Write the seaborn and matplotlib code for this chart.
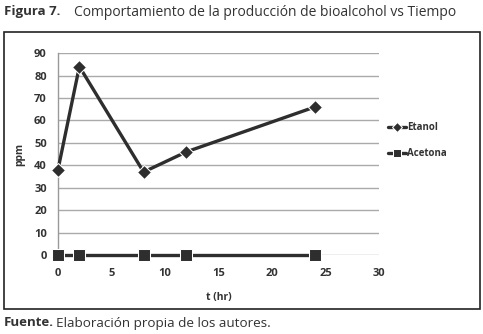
import matplotlib
matplotlib.use("Agg")
import matplotlib.pyplot as plt
import seaborn as sns
import pandas as pd
from matplotlib.patches import Rectangle

t_hr = [0, 2, 8, 12, 24]
etanol = [38, 84, 37, 46, 66]
acetona = [0, 0, 0, 0, 0]
x_ticks = [0, 5, 10, 15, 20, 25, 30]
y_ticks = [0, 10, 20, 30, 40, 50, 60, 70, 80, 90]

sns.set_theme(style="white")
plt.rcParams['font.family'] = ['Open Sans', 'DejaVu Sans']

df = pd.DataFrame({
    "t": t_hr * 2,
    "ppm": etanol + acetona,
    "serie": ["Etanol"] * len(t_hr) + ["Acetona"] * len(t_hr),
})

fig = plt.figure(figsize=(4.83, 3.34), dpi=100)
ax = fig.add_axes([0.120, 0.2365, 0.665, 0.6045])

col = "#2e2e2e"
sns.lineplot(data=df, x="t", y="ppm", hue="serie", style="serie",
             markers={"Etanol": "D", "Acetona": "s"}, dashes=False,
             palette={"Etanol": col, "Acetona": col}, markersize=7,
             linewidth=2.4, ax=ax, legend=True, zorder=3)

ax.set_xlim(0, 30)
ax.set_ylim(0, 90)
ax.set_xticks(x_ticks)
ax.set_yticks(y_ticks)
ax.yaxis.grid(True, color="#aaaaaa", linewidth=1)
ax.xaxis.grid(False)
for s in ["top", "right", "bottom"]:
    ax.spines[s].set_visible(False)
ax.spines["left"].set_color("#999999")
ax.spines["left"].set_linewidth(1)
for lab in ax.get_xticklabels() + ax.get_yticklabels():
    lab.set_fontweight("bold")
    lab.set_fontsize(8)
    lab.set_color("#333333")
ax.tick_params(axis="x", pad=9, length=0)
ax.tick_params(axis="y", pad=8, length=0)
ax.set_xlabel("t (hr)", fontsize=7.5, fontweight="bold", color="#333333", labelpad=10)
ax.set_ylabel("ppm", fontsize=7.5, fontweight="bold", color="#333333", labelpad=6)
for l in ax.get_lines():
    l.set_clip_on(False)
    if l.get_marker() == "s":
        l.set_markersize(8)

leg = ax.legend(loc="upper left", bbox_to_anchor=(1.0, 0.70), frameon=False,
                handlelength=1.9, handletextpad=0.1, markerscale=0.7,
                labelspacing=1.5, prop={"weight": "bold", "size": 7})
for t in leg.get_texts():
    t.set_color("#333333")

fig.patches.append(Rectangle((4 / 483, 1 - 309 / 334), 476 / 483, 277 / 334,
                             transform=fig.transFigure, fill=False,
                             edgecolor="#222222", linewidth=1.2))

fig.text(4 / 483, 1 - 12 / 334, "Figura 7.", fontsize=9.5, fontweight="bold",
         color="#333333", va="center", ha="left")
fig.text(74 / 483, 1 - 12 / 334, "Comportamiento de la producción de bioalcohol vs Tiempo",
         fontsize=10, color="#333333", va="center", ha="left")
fig.text(4 / 483, 1 - 323 / 334, "Fuente.", fontsize=9.5, fontweight="bold",
         color="#333333", va="center", ha="left")
fig.text(56 / 483, 1 - 323 / 334, "Elaboración propia de los autores.",
         fontsize=9.7, color="#333333", va="center", ha="left")

fig.savefig("out.png", dpi=100)
